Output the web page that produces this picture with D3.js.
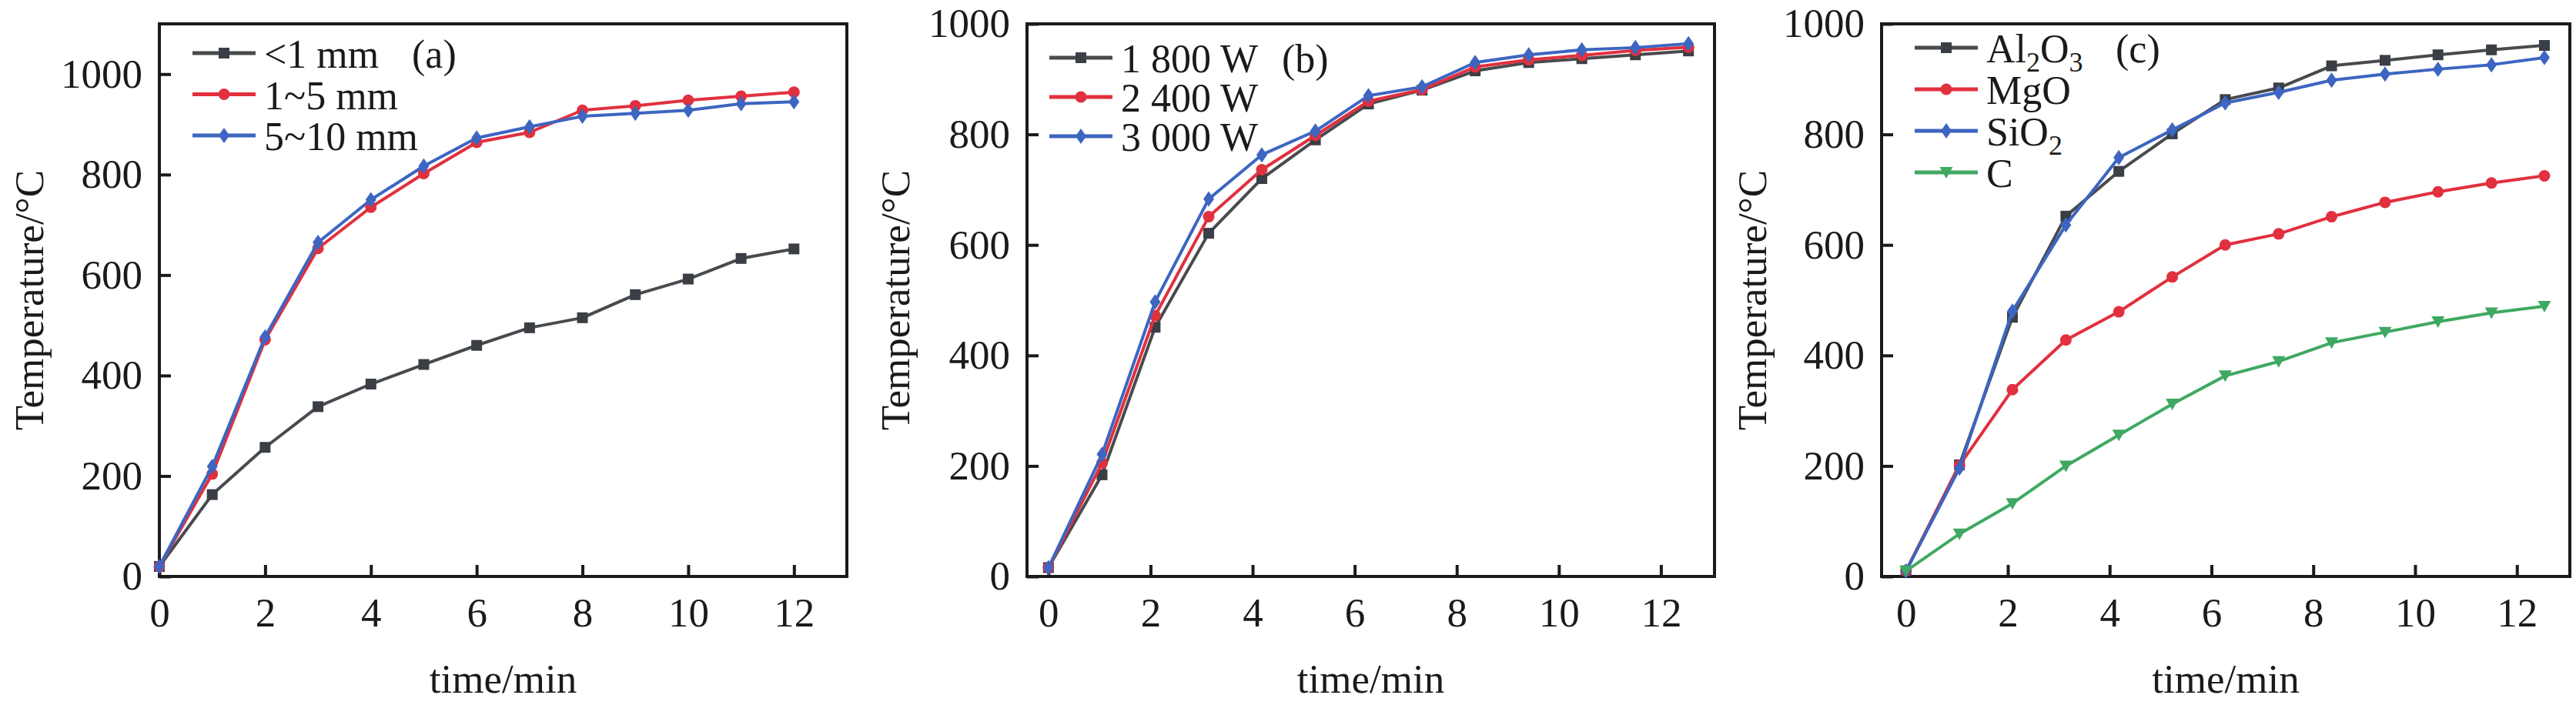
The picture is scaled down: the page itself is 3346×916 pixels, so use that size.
<!DOCTYPE html>
<html lang="en">

<head>
  <meta charset="UTF-8">
  <title>Temperature vs time</title>
  <style>
    body {
      margin: 0;
      background: #fff;
    }

    svg {
      display: block;
      font-family: "Liberation Serif", "DejaVu Serif", serif;
    }

    .box {
      fill: none;
      stroke: #1a1a1a;
      stroke-width: 4;
    }

    .series {
      fill: none;
      stroke-width: 4;
      stroke-linejoin: round;
    }
  </style>
</head>

<body>
  <div id="chart"></div>

  <script src="https://d3js.org/d3.v7.min.js"></script>

  <script>
    // data
    const timeA = [0, 1, 2, 3, 4, 5, 6, 7, 8, 9, 10, 11, 12];
    const timeBC = [0, 1.05, 2.09, 3.14, 4.18, 5.23, 6.27, 7.32, 8.36, 9.41, 10.45, 11.5, 12.54];
    const xTicks = [0, 2, 4, 6, 8, 10, 12];
    const yTicks = [0, 200, 400, 600, 800, 1000];

    // (a) particle size
    const sizeLabels = ['<1 mm', '1~5 mm', '5~10 mm'];
    const sizeLt1 = [20, 163, 257, 338, 383, 422, 460, 495, 515, 561, 592, 633, 652];
    const size1to5 = [20, 204, 471, 653, 735, 802, 864, 884, 928, 937, 948, 956, 964];
    const size5to10 = [20, 219, 477, 665, 750, 817, 873, 895, 916, 922, 928, 941, 945];

    // (b) microwave power
    const powerLabels = ['1 800 W', '2 400 W', '3 000 W'];
    const power1800 = [16, 184, 451, 621, 720, 790, 855, 880, 915, 930, 937, 944, 951];
    const power2400 = [16, 205, 472, 651, 736, 798, 860, 881, 922, 935, 943, 952, 958];
    const power3000 = [16, 221, 497, 683, 763, 806, 870, 886, 930, 944, 953, 957, 964];

    // (c) absorber material
    const materialLabels = [['Al', '2', 'O', '3'], ['MgO'], ['SiO', '2'], ['C']];
    const matAl2O3 = [10, 202, 469, 652, 733, 801, 863, 884, 924, 934, 944, 953, 961];
    const matMgO = [10, 201, 338, 428, 479, 542, 600, 620, 651, 677, 696, 712, 725];
    const matSiO2 = [10, 196, 480, 636, 758, 808, 857, 876, 898, 909, 918, 926, 939];
    const matC = [10, 77, 132, 200, 256, 312, 363, 389, 423, 442, 461, 477, 489];

    const gray = '#484a4e';
    const red = '#e1303e';
    const blue = '#3d65c1';
    const green = '#3fa862';

    const width = 3346;
    const height = 916;

    const svg = d3.select('#chart')
      .append('svg')
      .attr('width', width)
      .attr('height', height);

    const markers = {
      square: g => g.append('rect').attr('x', -7).attr('y', -7).attr('width', 14).attr('height', 14),
      circle: g => g.append('circle').attr('r', 7.5),
      diamond: g => g.append('path').attr('d', 'M0,-10L7,0L0,10L-7,0Z'),
      triangle: g => g.append('path').attr('d', 'M-8.5,-7L8.5,-7L0,8Z')
    };

    const panels = [
      {
        left: 207, right: 1100, xDomain: [0, 13], yDomain: [0, 1100],
        time: timeA, tag: '(a)', tagX: 535,
        legendX: 250, legendY: 69, rowGap: 53.5, titleX: 56,
        series: [
          { values: sizeLt1, color: gray, marker: 'square', label: [sizeLabels[0]] },
          { values: size1to5, color: red, marker: 'circle', label: [sizeLabels[1]] },
          { values: size5to10, color: blue, marker: 'diamond', label: [sizeLabels[2]] }
        ]
      },
      {
        left: 1334, right: 2227, xDomain: [-0.42, 13.05], yDomain: [0, 1000],
        time: timeBC, tag: '(b)', tagX: 1665,
        legendX: 1363, legendY: 75, rowGap: 51, titleX: 1181,
        series: [
          { values: power1800, color: gray, marker: 'square', label: [powerLabels[0]] },
          { values: power2400, color: red, marker: 'circle', label: [powerLabels[1]] },
          { values: power3000, color: blue, marker: 'diamond', label: [powerLabels[2]] }
        ]
      },
      {
        left: 2444, right: 3338, xDomain: [-0.48, 13.04], yDomain: [0, 1000],
        time: timeBC, tag: '(c)', tagX: 2748,
        legendX: 2487, legendY: 62, rowGap: 54, titleX: 2294,
        series: [
          { values: matAl2O3, color: gray, marker: 'square', label: materialLabels[0] },
          { values: matMgO, color: red, marker: 'circle', label: materialLabels[1] },
          { values: matSiO2, color: blue, marker: 'diamond', label: materialLabels[2] },
          { values: matC, color: green, marker: 'triangle', label: materialLabels[3] }
        ]
      }
    ];

    const plotTop = 31;
    const plotBottom = 749;

    panels.forEach(p => {
      const x = d3.scaleLinear().domain(p.xDomain).range([p.left, p.right]);
      const y = d3.scaleLinear().domain(p.yDomain).range([plotBottom, plotTop]);
      const g = svg.append('g');

      // axes with inward ticks
      const gx = g.append('g')
        .attr('transform', `translate(0,${plotBottom})`)
        .call(d3.axisBottom(x).tickValues(xTicks).tickFormat(d3.format('d'))
          .tickSizeInner(-15).tickSizeOuter(0).tickPadding(27));
      const gy = g.append('g')
        .attr('transform', `translate(${p.left},0)`)
        .call(d3.axisLeft(y).tickValues(yTicks).tickFormat(d3.format('d'))
          .tickSizeInner(-15).tickSizeOuter(0).tickPadding(22));

      [gx, gy].forEach(a => {
        a.attr('font-family', null).attr('font-size', 53);
        a.select('.domain').remove();
        a.selectAll('.tick line').attr('stroke', '#1a1a1a').attr('stroke-width', 4);
        a.selectAll('.tick text').attr('fill', '#1a1a1a');
      });

      g.append('rect')
        .classed('box', true)
        .attr('x', p.left)
        .attr('y', plotTop)
        .attr('width', p.right - p.left)
        .attr('height', plotBottom - plotTop);

      // axis titles
      g.append('text')
        .attr('x', (p.left + p.right) / 2)
        .attr('y', 900)
        .attr('text-anchor', 'middle')
        .attr('font-size', 53)
        .attr('fill', '#1a1a1a')
        .text('time/min');

      g.append('text')
        .attr('transform', `translate(${p.titleX},${(plotTop + plotBottom) / 2}) rotate(-90)`)
        .attr('text-anchor', 'middle')
        .attr('font-size', 53)
        .attr('fill', '#1a1a1a')
        .text('Temperature/°C');

      // series
      const line = d3.line()
        .x((d, i) => x(p.time[i]))
        .y(d => y(d));

      p.series.forEach(s => {
        g.append('path')
          .classed('series', true)
          .attr('stroke', s.color)
          .attr('d', line(s.values));

        g.append('g')
          .selectAll('g')
          .data(s.values)
          .enter()
          .append('g')
          .attr('transform', (d, i) => `translate(${x(p.time[i])},${y(d)})`)
          .attr('fill', s.color === gray ? '#3a3e45' : s.color)
          .each(function () { markers[s.marker](d3.select(this)); });
      });

      // legend
      p.series.forEach((s, i) => {
        const ly = p.legendY + i * p.rowGap;
        const lg = g.append('g');
        lg.append('line')
          .attr('x1', p.legendX).attr('x2', p.legendX + 82)
          .attr('y1', ly).attr('y2', ly)
          .attr('stroke', s.color)
          .attr('stroke-width', 5);
        lg.append('g')
          .attr('transform', `translate(${p.legendX + 41},${ly})`)
          .attr('fill', s.color === gray ? '#3a3e45' : s.color)
          .call(markers[s.marker]);

        const t = lg.append('text')
          .attr('x', p.legendX + 93)
          .attr('y', ly + 19)
          .attr('font-size', 52)
          .attr('fill', '#1a1a1a');
        s.label.forEach((part, k) => {
          const sub = k % 2 === 1;
          t.append('tspan')
            .attr('font-size', sub ? 36 : 52)
            .attr('dy', sub ? 12 : (k > 0 ? -12 : 0))
            .text(part);
        });
      });

      g.append('text')
        .attr('x', p.tagX)
        .attr('y', p.legendY + 19)
        .attr('font-size', 52)
        .attr('fill', '#1a1a1a')
        .text(p.tag);
    });
  </script>
</body>

</html>
